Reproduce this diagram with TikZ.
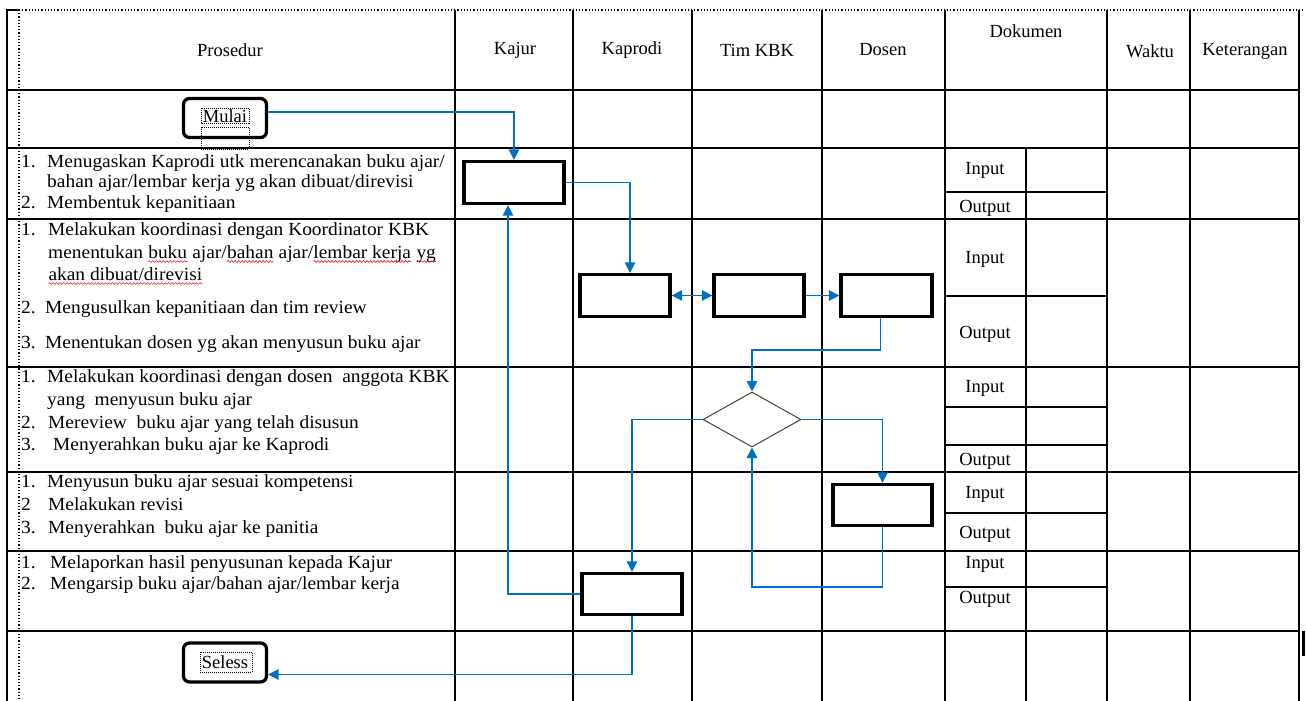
\documentclass[tikz,border=0pt]{standalone}
\usepackage{fontspec}
\setmainfont{Liberation Serif}
\newfontfamily\itemfont{Liberation Serif}[FakeStretch=1.05]
\usepackage{tikz}
\usetikzlibrary{arrows.meta,shapes.geometric,decorations.pathmorphing}

\definecolor{flowblue}{RGB}{0,112,192}
\definecolor{wavered}{RGB}{230,25,25}
\newcommand\spellwave[1]{\tikz[baseline=(sw.base)]{%
  \node[inner sep=0pt, outer sep=0pt, text height=, text depth=] (sw) {#1};
  \draw[wavered, line width=0.6pt, decorate,
        decoration={snake, amplitude=0.9pt, segment length=3.5pt}]
    ([yshift=-3.5pt]sw.base west) -- ([yshift=-3.5pt]sw.base east);}}

\begin{document}
\begin{tikzpicture}[
    x=1pt, y=-1pt,
    font=\fontsize{18.5}{20}\selectfont,
    tip/.tip={Triangle[length=10.5pt,width=10.5pt]},
    grid/.style={line width=1.8pt},
    act/.style={draw, line width=3.3pt, inner sep=0pt, minimum height=42pt},
    term/.style={draw, line width=3.3pt, rounded corners=6pt, inner sep=0pt,
                 minimum width=83pt, minimum height=39pt},
    dec/.style={draw, diamond, black!75, line width=1pt, inner sep=0pt,
                minimum width=98pt, minimum height=55pt},
    head/.style={inner sep=0pt},
    item/.style={anchor=west, inner sep=0pt, text height=13pt, text depth=3pt,
                 font=\fontsize{18.5}{20}\itemfont},
    doc/.style={inner sep=0pt, text height=13pt, text depth=3pt},
    flow/.style={-tip, flowblue, line width=1.6pt},
    frame/.style={densely dotted, line width=1pt},
  ]

  \useasboundingbox (0,0) rectangle (1306,701);

  %% ---- table frame ------------------------------------------------
  \draw[grid] (7,701) -- (7,10) -- (19,10);
  \draw[grid] (1299,10) -- (1299,701);
  \draw[dotted, line width=1.2pt] (19,10) -- (1304,10);
  \draw[dotted, line width=1.2pt] (19,10) -- (19,701);
  \foreach \x in {455,573,692,822,945,1107,1190}
    \draw[grid] (\x,10) -- (\x,701);
  \foreach \y in {90,148,219,367,472,551,631}
    \draw[grid] (7,\y) -- (1299,\y);
  \draw[grid] (1026,148) -- (1026,701);
  \foreach \y in {192,296,407,445,513,587}
    \draw[grid] (945,\y) -- (1107,\y);
  \fill (1301.5,631) rectangle (1304.5,656);

  %% ---- header row -------------------------------------------------
  \node[head] (hPros) at (230,50)  {Prosedur};
  \node[head] (hKaj)  at (515,50)  {Kajur};
  \node[head] (hKap)  at (632,50)  {Kaprodi};
  \node[head] (hTim)  at (757,50)  {Tim KBK};
  \node[head] (hDos)  at (883,50)  {Dosen};
  \node[head] (hDok)  at (1026,31) {Dokumen};
  \node[head] (hWak)  at (1150,51) {Waktu};
  \node[head] (hKet)  at (1245,51) {Keterangan};

  %% ---- prosedur text ------------------------------------------------
  \node[item] (p1a) at (21,162) {\makebox[26pt][l]{1.}Menugaskan Kaprodi utk merencanakan buku ajar/};
  \node[item] (p1b) at (47,182) {bahan ajar/lembar kerja yg akan dibuat/direvisi};
  \node[item] (p1c) at (21,203) {\makebox[26pt][l]{2.}Membentuk kepanitiaan};

  \node[item] (p2a) at (21,230) {\makebox[27pt][l]{1.}Melakukan koordinasi dengan Koordinator KBK};
  \node[item] (p2b) at (48,253) {menentukan \spellwave{buku} ajar/\spellwave{bahan} ajar/\spellwave{lembar kerja} \spellwave{yg}};
  \node[item] (p2c) at (48,275) {\spellwave{akan dibuat/direvisi}};
  \node[item] (p2d) at (21,308) {\makebox[24pt][l]{2.}Mengusulkan kepanitiaan dan tim review};
  \node[item] (p2e) at (21,343) {\makebox[24pt][l]{3.}Menentukan dosen yg akan menyusun buku ajar};

  \node[item] (p3a) at (21,377) {\makebox[26pt][l]{1.}Melakukan koordinasi dengan dosen\ \ anggota KBK};
  \node[item] (p3b) at (47,400) {yang\ \ menyusun buku ajar};
  \node[item] (p3c) at (21,423) {\makebox[27pt][l]{2.}Mereview\ \ buku ajar yang telah disusun};
  \node[item] (p3d) at (21,445) {\makebox[32pt][l]{3.}Menyerahkan buku ajar ke Kaprodi};

  \node[item] (p4a) at (21,482) {\makebox[26pt][l]{1.}Menyusun buku ajar sesuai kompetensi};
  \node[item] (p4b) at (21,505) {\makebox[27pt][l]{2}Melakukan revisi};
  \node[item] (p4c) at (21,528) {\makebox[27pt][l]{3.}Menyerahkan\ \ buku ajar ke panitia};

  \node[item] (p5a) at (21,563) {\makebox[29pt][l]{1.}Melaporkan hasil penyusunan kepada Kajur};
  \node[item] (p5b) at (21,584) {\makebox[29pt][l]{2.}Mengarsip buku ajar/bahan ajar/lembar kerja};

  %% ---- dokumen input / output ---------------------------------------
  \node[doc] (in1)  at (985,169) {Input};
  \node[doc] (out1) at (985,207) {Output};
  \node[doc] (in2)  at (985,258) {Input};
  \node[doc] (out2) at (985,333) {Output};
  \node[doc] (in3)  at (985,387) {Input};
  \node[doc] (out3) at (985,460) {Output};
  \node[doc] (in4)  at (985,493) {Input};
  \node[doc] (out4) at (985,533) {Output};
  \node[doc] (in5)  at (985,563) {Input};
  \node[doc] (out5) at (985,598) {Output};

  %% ---- flow shapes ----------------------------------------------------
  \node[term] (mulai)  at (225,118)   {\raisebox{3.3pt}{Mulai}};
  \node[term] (seless) at (225,662.5) {\raisebox{1.8pt}{Seless}};
  \draw[frame] (201,108) rectangle (249,123);
  \draw[frame] (201,127) rectangle (249,149);
  \draw[frame] (200,652) rectangle (252,672);

  \node[act, minimum width=100pt] (kajur)    at (514,182.5) {};
  \node[act, minimum width=90pt]  (kaprodiA) at (625,295.5) {};
  \node[act, minimum width=90pt]  (timkbk)   at (759,295.5) {};
  \node[act, minimum width=91pt]  (dosenA)   at (886.5,295.5) {};
  \node[dec]                      (review)   at (752,419.5) {};
  \node[act, minimum width=99pt, minimum height=41pt]  (dosenB)   at (882.5,505) {};
  \node[act, minimum width=100pt, minimum height=41pt] (kaprodiB) at (632,594) {};

  %% ---- connectors ------------------------------------------------------
  \draw[flow] ([yshift=6pt]mulai.east) -| (kajur.north);
  \draw[flow] (kajur.east) -| ([xshift=5pt]kaprodiA.north);
  \draw[flow,tip-tip] (kaprodiA) -- (timkbk);
  \draw[flow] (timkbk) -- (dosenA);
  \draw[flow] ([xshift=-6pt]dosenA.south) -- ++(0,32) -| (review.north);
  \draw[flow] (review.west) -| (kaprodiB.north);
  \draw[flow] (review.east) -| (dosenB.north);
  \draw[flow] (dosenB.south) -- ++(0,60) -| (review.south);
  \draw[flow] (kaprodiB.west) -| ([xshift=-6pt]kajur.south);
  \draw[flow] (kaprodiB.south) |- ([yshift=-12pt]seless.east);

\end{tikzpicture}
\end{document}
